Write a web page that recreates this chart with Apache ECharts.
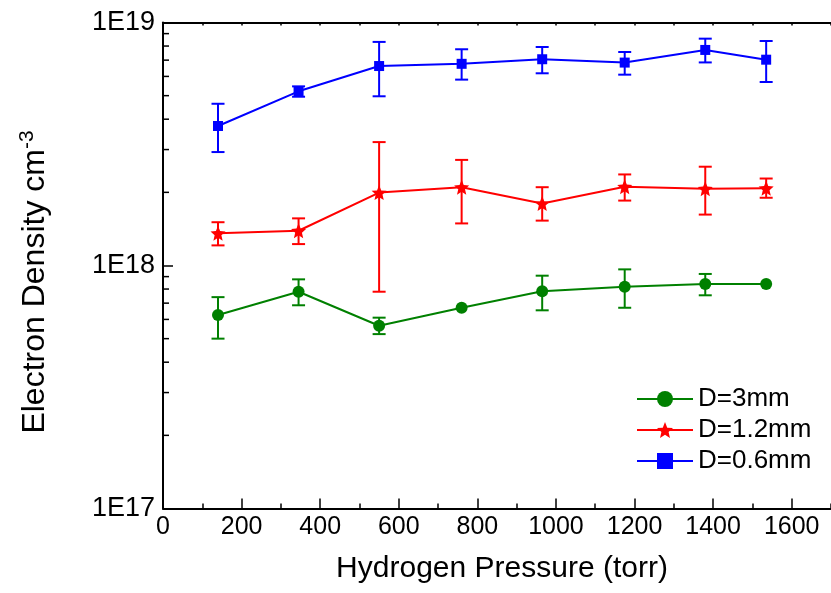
<!DOCTYPE html>
<html>
<head>
<meta charset="utf-8">
<script src="https://cdn.jsdelivr.net/npm/echarts@6/dist/echarts.min.js"></script>
<style>
  html, body { margin: 0; padding: 0; background: #fff; }
  #chart { width: 831px; height: 593px; }
</style>
</head>
<body>
<div id="chart"></div>
<script>
// Hydrogen pressure (torr) at which each density was measured
const pressure = [140, 345, 550, 760, 965, 1175, 1380, 1535];

// D = 3 mm nozzle
const d3Density = [6.26e17, 7.80e17, 5.65e17, 6.70e17, 7.83e17, 8.18e17, 8.39e17, 8.39e17];
const d3Low     = [5.00e17, 6.86e17, 5.22e17, null,    6.54e17, 6.70e17, 7.54e17, null];
const d3High    = [7.41e17, 8.77e17, 6.10e17, null,    9.08e17, 9.64e17, 9.23e17, null];

// D = 1.2 mm nozzle
const d12Density = [1.357e18, 1.39e18, 1.995e18, 2.10e18, 1.80e18, 2.11e18, 2.07e18, 2.08e18];
const d12Low     = [1.21e18, 1.225e18, 7.8e17,  1.49e18, 1.53e18, 1.85e18, 1.62e18, 1.90e18];
const d12High    = [1.507e18, 1.563e18, 3.22e18, 2.72e18, 2.10e18, 2.37e18, 2.55e18, 2.28e18];

// D = 0.6 mm nozzle
const d06Density = [3.75e18, 5.21e18, 6.62e18, 6.76e18, 7.06e18, 6.84e18, 7.71e18, 7.03e18];
const d06Low     = [2.93e18, 4.95e18, 4.97e18, 5.82e18, 6.18e18, 6.10e18, 6.85e18, 5.69e18];
const d06High    = [4.63e18, 5.46e18, 8.32e18, 7.76e18, 7.93e18, 7.56e18, 8.58e18, 8.39e18];

// Axis ranges and tick values
const xMin = 0, xMax = 1700, xMajor = 200, xMinor = 100;
const yMin = 1e17, yMax = 1e19;
const yDecades = [17, 18];
const yMinorMantissas = [2, 3, 4, 5, 6, 7, 8, 9];

const seriesNames = ['D=3mm', 'D=1.2mm', 'D=0.6mm'];
const seriesColors = ['#008000', '#ff0000', '#0000ff'];

const SANS = "'Liberation Sans', Arial, sans-serif";

// five-pointed star outline for the 1.2 mm markers
function starPath(inner) {
  let d = '';
  for (let i = 0; i < 10; i++) {
    const r = i % 2 ? inner : 1;
    const a = -Math.PI / 2 + i * Math.PI / 5;
    d += (i ? 'L' : 'M') + (r * Math.cos(a)).toFixed(3) + ',' + (r * Math.sin(a)).toFixed(3) + ' ';
  }
  return 'path://' + d + 'Z';
}

function pairs(xs, ys) { return xs.map((x, i) => [x, ys[i]]); }
function bars(xs, lo, hi) {
  const out = [];
  xs.forEach((x, i) => { if (lo[i] != null && hi[i] != null) out.push([x, lo[i], hi[i]]); });
  return out;
}

function errorBarSeries(name, color, data) {
  return {
    type: 'custom',
    name: name,
    xAxisIndex: 0,
    yAxisIndex: 0,
    data: data,
    encode: { x: 0, y: [1, 2] },
    z: 2,
    silent: true,
    renderItem: function (params, api) {
      const x = api.value(0);
      const top = api.coord([x, api.value(2)]);
      const bot = api.coord([x, api.value(1)]);
      const w = 6.5;
      const st = { stroke: color, lineWidth: 2 };
      return {
        type: 'group',
        children: [
          { type: 'line', shape: { x1: top[0], y1: top[1], x2: bot[0], y2: bot[1] }, style: st },
          { type: 'line', shape: { x1: top[0] - w, y1: top[1], x2: top[0] + w, y2: top[1] }, style: st },
          { type: 'line', shape: { x1: bot[0] - w, y1: bot[1], x2: bot[0] + w, y2: bot[1] }, style: st }
        ]
      };
    }
  };
}

function lineSeries(name, color, symbol, size, data) {
  return {
    type: 'line',
    name: name,
    data: data,
    symbol: symbol,
    symbolSize: size,
    showAllSymbol: true,
    z: 3,
    lineStyle: { color: color, width: 2 },
    itemStyle: { color: color },
    emphasis: { disabled: true }
  };
}

// log-spaced minor ticks on the density axis
const yMinorTicks = [];
yDecades.forEach(e => yMinorMantissas.forEach(m => yMinorTicks.push([xMin, m * Math.pow(10, e)])));

const minorTickSeries = {
  type: 'custom',
  name: 'yMinorTicks',
  data: yMinorTicks,
  silent: true,
  z: 4,
  renderItem: function (params, api) {
    const p = api.coord([api.value(0), api.value(1)]);
    return {
      type: 'line',
      shape: { x1: p[0], y1: p[1], x2: p[0] + 6, y2: p[1] },
      style: { stroke: '#000', lineWidth: 1.5 }
    };
  }
};

const chart = echarts.init(document.getElementById('chart'), null, { renderer: 'canvas' });

const option = {
  animation: false,
  backgroundColor: '#fff',
  grid: { left: 163, top: 22.5, width: 670, height: 486, containLabel: false },
  xAxis: [
    {
      type: 'value', position: 'bottom', min: xMin, max: xMax, interval: xMajor,
      axisLine: { show: true, onZero: false, lineStyle: { color: '#000', width: 2 } },
      axisTick: { show: true, inside: true, length: 10, lineStyle: { color: '#000', width: 1.5 } },
      axisLabel: {
        show: true, showMaxLabel: false, margin: 6, color: '#000', fontSize: 25, fontFamily: SANS,
        formatter: v => String(v)
      },
      splitLine: { show: false },
      name: 'Hydrogen Pressure (torr)', nameLocation: 'middle', nameGap: 45,
      nameTextStyle: { color: '#000', fontSize: 30, fontFamily: SANS, padding: [0, 0, 0, 10] }
    },
    {
      type: 'value', position: 'bottom', min: xMin, max: xMax, interval: xMinor,
      axisLine: { show: false },
      axisTick: { show: true, inside: true, length: 5, lineStyle: { color: '#000', width: 1.5 } },
      axisLabel: { show: false }, splitLine: { show: false }
    },
    {
      type: 'value', position: 'top', min: xMin, max: xMax, interval: xMinor,
      axisLine: { show: true, onZero: false, lineStyle: { color: '#000', width: 2 } },
      axisTick: { show: true, inside: true, length: 3, lineStyle: { color: '#000', width: 1.5 } },
      axisLabel: { show: false }, splitLine: { show: false }
    }
  ],
  yAxis: [
    {
      type: 'log', logBase: 10, min: yMin, max: yMax,
      axisLine: { show: true, onZero: false, lineStyle: { color: '#000', width: 2 } },
      axisTick: { show: true, inside: true, length: 10, lineStyle: { color: '#000', width: 1.5 } },
      axisLabel: {
        show: true, margin: 8, color: '#000', fontSize: 27, fontFamily: SANS,
        formatter: v => '1E' + Math.round(Math.log10(v))
      },
      splitLine: { show: false }, minorTick: { show: false }
    }
  ],
  legend: {
    data: seriesNames,
    orient: 'vertical',
    left: 631, top: 381,
    itemWidth: 56, itemHeight: 20, itemGap: 5,
    textStyle: { color: '#000', fontSize: 26, fontFamily: SANS },
    selectedMode: false
  },
  graphic: [
    {
      type: 'text',
      x: 35, y: 282,
      rotation: Math.PI / 2,
      style: {
        text: '{m|Electron Density cm}{s|-3}',
        align: 'center', verticalAlign: 'middle',
        rich: {
          m: { fontSize: 32, fontFamily: SANS, fill: '#000', lineHeight: 36 },
          s: { fontSize: 21, fontFamily: SANS, fill: '#000', lineHeight: 36, verticalAlign: 'top' }
        }
      }
    }
  ],
  series: [
    errorBarSeries('d3Err', seriesColors[0], bars(pressure, d3Low, d3High)),
    errorBarSeries('d12Err', seriesColors[1], bars(pressure, d12Low, d12High)),
    errorBarSeries('d06Err', seriesColors[2], bars(pressure, d06Low, d06High)),
    lineSeries(seriesNames[0], seriesColors[0], 'circle', 12, pairs(pressure, d3Density)),
    lineSeries(seriesNames[1], seriesColors[1], starPath(0.45), 15, pairs(pressure, d12Density)),
    lineSeries(seriesNames[2], seriesColors[2], 'rect', 10, pairs(pressure, d06Density)),
    minorTickSeries
  ]
};

chart.setOption(option);
</script>
</body>
</html>
